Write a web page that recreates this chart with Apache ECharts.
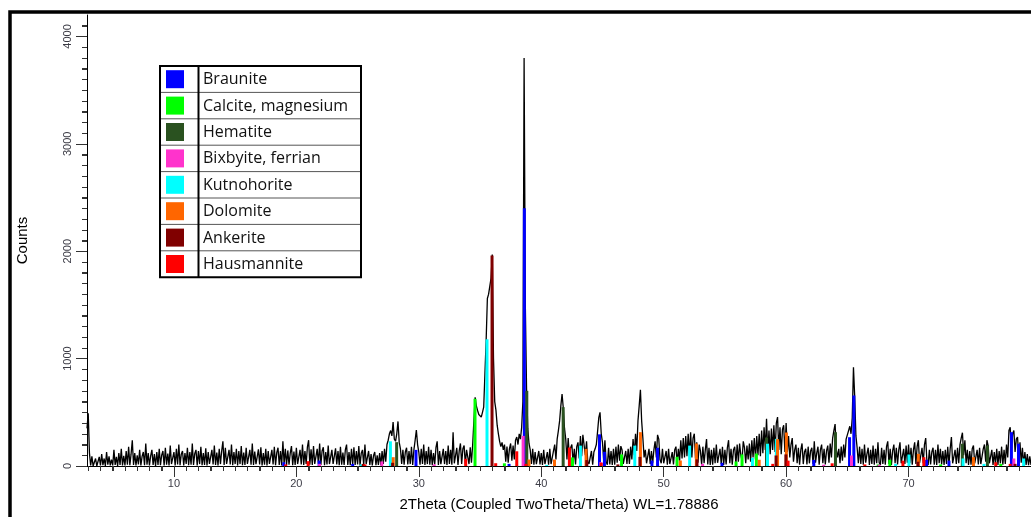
<!DOCTYPE html>
<html><head><meta charset="utf-8">
<script src="https://cdn.jsdelivr.net/npm/echarts@6/dist/echarts.min.js"></script>
<style>html,body{margin:0;padding:0;background:#fff}#c{width:1031px;height:517px}</style>
</head><body><div id="c"></div>
<script>
// ---- measured pattern, step 0.1 deg 2Theta ----
const STEP = 0.1;
const segmentStarts = [2.9, 10, 20, 30, 40, 50, 60, 70];
const counts03 = [350,490,120,5,90,0,12,70,0,10,
 85,5,110,8,70,0,130,12,90,5,
 60,5,150,10,85,0,120,10,160,5,
 95,5,140,12,180,8,110,240,10,120,
 5,100,15,150,5,90,130,8,210,12,
 120,5,95,150,10,110,0,130,10,160,
 8,100,140,5,170,12,115,5,190,18,
 10];
const counts10 = [130,5,160,15,200,8,110,140,5,120,
 20,170,8,130,12,210,10,115,150,5,
 140,18,180,8,120,10,165,5,130,20,
 8,150,15,190,10,125,5,160,18,140,
 230,10,170,20,5,150,15,200,8,130,
 18,160,5,140,18,185,8,125,10,170,
 20,5,150,12,210,10,135,18,5,155,
 15,175,5,120,12,160,5,140,20,10,
 150,15,180,8,125,170,10,140,5,230,
 18,160,10,145,12,120,185,8,135,10];
const counts20 = [170,18,8,150,15,200,10,140,20,175,
 240,12,155,10,185,20,8,160,18,210,
 10,140,175,8,130,15,190,18,5,150,
 20,10,165,15,140,8,180,12,125,10,
 150,200,10,130,8,160,18,175,10,140,
 15,185,5,120,150,10,200,18,5,140,
 10,110,5,95,130,8,100,10,120,8,
 140,20,160,40,200,240,300,330,280,410,
 250,230,300,415,220,160,20,150,12,130,
 170,15,140,18,180,10,150,240,335,200];
const counts30 = [130,12,160,18,200,10,140,18,180,12,
 150,8,120,15,170,230,10,140,18,10,
 160,18,140,10,190,20,150,12,315,25,
 15,170,10,140,210,18,160,190,15,150,
 140,18,175,30,200,424,640,560,517,480,
 470,455,500,548,860,1170,1560,1600,1610,1750,
 1970,1000,600,520,380,300,230,180,220,150,
 200,40,180,30,160,210,50,190,60,240,
 270,200,300,250,360,600,3800,1500,720,350,
 210,150,20,160,12,130,18,10,140,15];
const counts40 = [120,10,150,18,8,130,12,160,18,10,
 140,200,60,250,330,420,560,670,540,350,
 250,60,260,80,170,200,25,160,15,180,
 220,70,280,90,290,300,100,230,40,20,
 20,140,12,130,160,200,320,450,500,300,
 220,50,240,40,12,170,15,140,10,160,
 12,180,30,200,50,185,150,20,15,140,
 20,160,18,180,60,250,100,300,140,420,
 560,710,420,260,80,150,25,30,160,18,
 140,25,150,230,80,290,250,60,25,160];
const counts50 = [25,8,140,12,160,18,5,130,15,150,
 180,25,160,50,240,70,260,80,280,90,
 300,100,315,80,260,300,70,220,30,200,
 140,12,180,25,150,250,15,170,10,150,
 12,170,25,200,30,12,160,18,180,10,
 150,15,170,240,25,160,12,150,180,18,
 200,40,210,100,50,230,170,25,190,60,
 210,40,240,80,260,60,280,100,300,90,
 330,120,360,150,440,130,330,110,350,150,
 380,130,400,455,150,360,110,340,380,130];
const counts60 = [400,130,280,80,200,260,40,150,200,25,
 170,12,150,210,18,130,160,15,180,25,
 140,170,18,230,30,120,180,12,150,200,
 25,160,15,140,190,30,210,80,260,330,
 390,150,80,160,25,180,50,200,80,250,
 250,330,370,300,450,920,650,280,170,25,
 180,18,160,12,200,30,110,170,10,150,
 18,190,12,160,25,220,30,10,170,20,
 150,12,180,230,18,160,10,140,200,25,
 170,15,150,220,25,10,160,18,190,30];
const counts70 = [200,25,170,12,150,220,20,180,240,30,
 12,170,25,200,260,40,10,150,15,130,
 170,12,150,10,200,25,160,15,140,10,
 150,20,180,12,160,270,25,10,150,18,
 170,25,200,260,310,100,240,25,150,10,
 140,12,160,190,25,10,150,15,170,18,
 10,160,200,40,240,190,25,12,150,10,
 130,15,160,10,140,25,180,12,150,20,
 200,80,330,360,150,300,330,130,250,270,
 80,220,30,170,12,130,10,110,8,90,
 10];

// ---- axis ticks ----
const xTickLabels = [10, 20, 30, 40, 50, 60, 70];
const yTickLabels = [0, 1000, 2000, 3000, 4000];

// ---- phases (reference sticks: [2Theta, counts]) ----
const phaseNames = ['Braunite','Calcite, magnesium','Hematite','Bixbyite, ferrian','Kutnohorite','Dolomite','Ankerite','Hausmannite'];
const phaseColors = ['#0000ff','#00ff00','#2a5220','#ff33cc','#00ffff','#ff6600','#800000','#ff0000'];
const braunite = [[18.97,35],[21.86,51],[24.6,20],[29.77,150],[37.37,20],[38.62,2400],[44.76,295],[45.16,132],[49.04,51],[49.5,170],[54.76,30],[62.26,57],[65.18,268],[65.53,657],[71.47,58],[73.3,50],[78.4,315],[78.98,207]];
const calcite = [[34.59,626],[36.99,25],[42.55,80],[46.56,108],[51.09,86],[55.91,42],[56.4,108],[57.57,116],[67.52,15],[68.47,58],[72.62,15],[77.53,20]];
const hematite = [[28.19,222],[38.82,700],[41.79,548],[58.4,265],[64.03,315],[74.39,207],[76.44,190]];
const bixbyite = [[21.9,20],[26.98,42],[31.26,15],[38.52,280],[44.87,36],[53.18,20],[63.07,12],[65.34,98],[67.6,12],[78.6,70]];
const kutnohorite = [[25.3,15],[27.68,230],[35.57,1180],[40.45,10],[43.2,190],[47.64,190],[52.12,190],[57.25,76],[58.48,207],[59.2,253],[68.94,20],[70.03,107],[74.45,70],[76.16,20],[79.4,70]];
const dolomite = [[27.91,82],[39.0,60],[41.08,60],[43.66,160],[48.1,315],[51.36,51],[52.67,210],[57.8,58],[59.3,250],[60.02,312],[70.8,113],[75.3,82]];
const ankerite = [[25.46,20],[27.86,30],[35.98,1960],[43.72,55],[46.26,15],[48.06,85],[52.72,62],[59.18,98],[59.98,108],[70.76,40],[78.7,20]];
const hausmannite = [[19.13,15],[20.96,45],[25.6,15],[33.83,67],[36.28,26],[38.0,137],[38.75,20],[42.3,172],[44.9,30],[58.91,20],[60.16,50],[63.76,25],[66.43,15],[69.54,50],[71.25,82],[77.12,35],[78.3,20]];
const phases = [braunite, calcite, hematite, bixbyite, kutnohorite, dolomite, ankerite, hausmannite];

// ---- build ----
const segments = [counts03, counts10, counts20, counts30, counts40, counts50, counts60, counts70];
const pattern = [];
segments.forEach((arr, s) => arr.forEach((v, i) => pattern.push([+(segmentStarts[s] + i * STEP).toFixed(2), v])));

const X_MIN = 2.9, X_MAX = 80, Y_MIN = 0, Y_MAX = 4200;
const xMinorVals = []; for (let d = 3; d <= 80; d++) if (d % 10) xMinorVals.push(d);
const yMinorVals = []; for (let c = 100; c <= 4100; c += 100) if (c % 1000) yMinorVals.push(c);

const labelFont = {fontFamily: 'Liberation Sans, Arial, sans-serif', fontSize: 11, color: '#3c3c46'};
const titleFont = {fontFamily: 'Liberation Sans, Arial, sans-serif', fontSize: 15, color: '#000'};

// ---- legend table + frame (graphic) ----
const gfx = [];
gfx.push({type: 'rect', shape: {x: 10, y: 12, width: 1200, height: 700}, style: {fill: 'none', stroke: '#000', lineWidth: 3.5}, z: 100});
const LX = 160, LY = 66, LW = 201, RH = 26.4, DIV = 198.5;
phaseNames.forEach((n, k) => {
  const top = LY + k * RH;
  if (k > 0) gfx.push({type: 'line', shape: {x1: LX, y1: top, x2: LX + LW, y2: top}, style: {stroke: '#555', lineWidth: 1}, z: 100});
  gfx.push({type: 'rect', shape: {x: 166, y: top + 4.2, width: 18, height: 18}, style: {fill: phaseColors[k]}, z: 100});
  gfx.push({type: 'text', x: 203, y: top + RH / 2 + 0.5, style: {text: n, font: 'normal 16px "Open Sans", sans-serif', fill: '#111', verticalAlign: 'middle', align: 'left'}, z: 100});
});
gfx.push({type: 'line', shape: {x1: DIV, y1: LY, x2: DIV, y2: LY + 8 * RH}, style: {stroke: '#000', lineWidth: 2}, z: 100});
gfx.push({type: 'rect', shape: {x: LX, y: LY, width: LW, height: 8 * RH}, style: {fill: 'none', stroke: '#000', lineWidth: 2}, z: 100});

// minor tick marks drawn with the chart's own coordinate mapping
function minorTickItem(params, api) {
  const v = api.value(0), c = api.value(1);
  const isX = api.value(2) === 0;
  const p = api.coord([v, c]);
  if (isX) return {type: 'rect', shape: {x: Math.round(p[0]), y: Math.round(p[1]), width: 1, height: 5}, style: {fill: '#333'}};
  return {type: 'rect', shape: {x: Math.round(p[0]) - 5, y: Math.round(p[1]), width: 5, height: 1}, style: {fill: '#333'}};
}
const minorTickData = xMinorVals.map(d => [d, Y_MIN, 0]).concat(yMinorVals.map(c => [X_MIN, c, 1]));

const chart = echarts.init(document.getElementById('c'), null, {renderer: 'canvas'});
chart.setOption({
  animation: false,
  backgroundColor: '#fff',
  grid: {left: 87, right: 0, top: 15, bottom: 51, containLabel: false, outerBoundsMode: 'none'},
  xAxis: [{
    type: 'value', min: X_MIN, max: X_MAX, position: 'bottom',
    name: '2Theta (Coupled TwoTheta/Theta) WL=1.78886', nameLocation: 'middle', nameGap: 31,
    nameTextStyle: titleFont,
    axisLine: {show: true, onZero: false, lineStyle: {color: '#000', width: 1}},
    axisTick: {show: true, inside: false, length: 11, customValues: xTickLabels, lineStyle: {color: '#333'}},
    axisLabel: Object.assign({show: true, margin: 12, customValues: xTickLabels, formatter: v => String(v)}, labelFont),
    splitLine: {show: false}
  }, {
    type: 'value', min: X_MIN, max: X_MAX, position: 'bottom',
    axisLine: {show: true, onZero: false, lineStyle: {color: 'rgba(0,0,0,0)'}},
    axisTick: {show: true, length: 5, customValues: xMinorVals, lineStyle: {color: '#333', width: 1}},
    axisLabel: {show: true, customValues: xMinorVals, formatter: () => ''}, splitLine: {show: false}
  }],
  yAxis: [{
    type: 'value', min: Y_MIN, max: Y_MAX, position: 'left',
    name: 'Counts', nameLocation: 'middle', nameGap: 57, nameRotate: 90,
    nameTextStyle: titleFont,
    axisLine: {show: true, onZero: false, lineStyle: {color: '#000', width: 1}},
    axisTick: {show: true, length: 11, customValues: yTickLabels, lineStyle: {color: '#333'}},
    axisLabel: Object.assign({show: true, rotate: 90, margin: 14, customValues: yTickLabels, formatter: v => String(v)}, labelFont),
    splitLine: {show: false}
  }, {
    type: 'value', min: Y_MIN, max: Y_MAX, position: 'left',
    axisLine: {show: true, onZero: false, lineStyle: {color: 'rgba(0,0,0,0)'}},
    axisTick: {show: true, length: 5, customValues: yMinorVals, lineStyle: {color: '#333', width: 1}},
    axisLabel: {show: true, customValues: yMinorVals, formatter: () => ''}, splitLine: {show: false}
  }],
  series: [{
    type: 'line', data: pattern, symbol: 'none', showSymbol: false, sampling: 'none',
    lineStyle: {color: '#000', width: 1.3}, itemStyle: {color: '#000'}, z: 2, silent: true
  }].concat(phases.map((p, k) => ({
    type: 'bar', name: phaseNames[k], data: p, barWidth: 3, barGap: '-100%',
    itemStyle: {color: phaseColors[k]}, z: 3, silent: true
  }))).concat([{
    type: 'scatter', xAxisIndex: 1, yAxisIndex: 1, data: pattern.slice(0, 2),
    symbolSize: 0, itemStyle: {opacity: 0}, silent: true
  }, {
    type: 'custom', data: minorTickData, renderItem: minorTickItem, clip: false,
    encode: {x: 0, y: 1}, silent: true, z: 5
  }]),
  graphic: {elements: gfx}
});
</script></body></html>
